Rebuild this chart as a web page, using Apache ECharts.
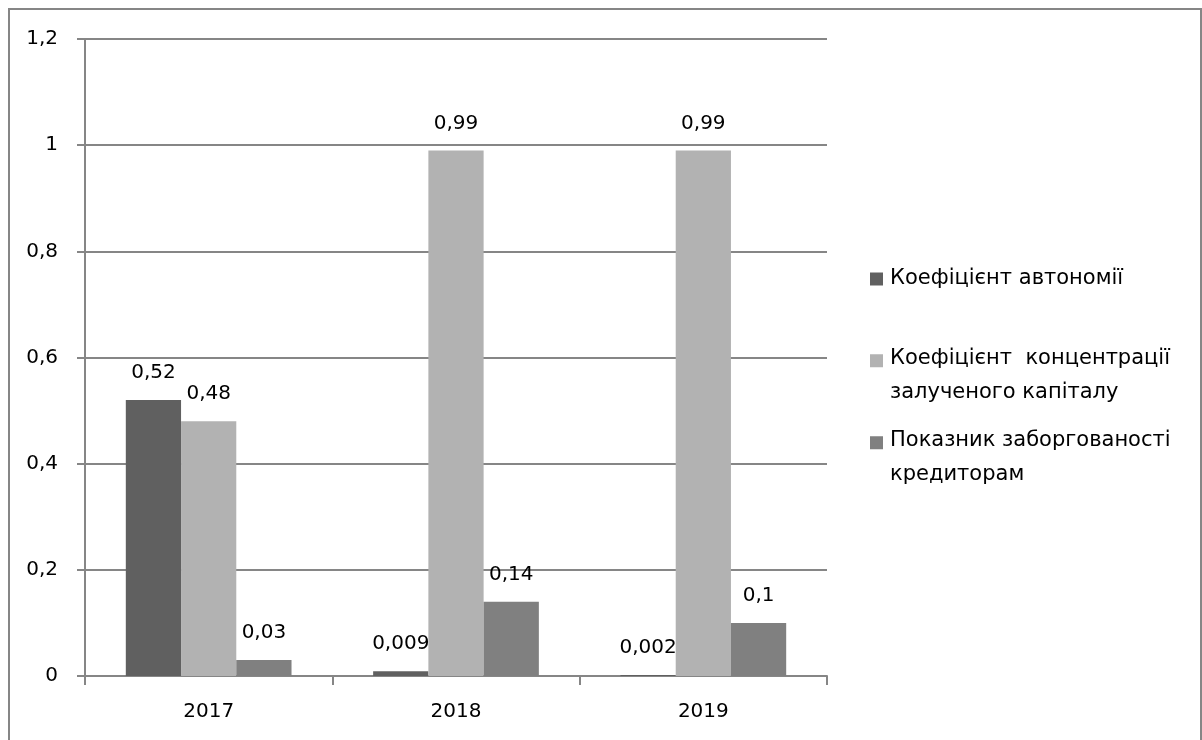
<!DOCTYPE html>
<html><head><meta charset="utf-8">
<script src="https://cdn.jsdelivr.net/npm/echarts@6/dist/echarts.min.js"></script>
<style>html,body{margin:0;padding:0;background:#fff}#c{width:1202px;height:740px}</style>
</head><body><div id="c"></div>
<script>
const categories = ['2017', '2018', '2019'];
const autonomy = [0.52, 0.009, 0.002];
const borrowedConcentration = [0.48, 0.99, 0.99];
const creditorDebt = [0.03, 0.14, 0.1];
const seriesNames = ['Коефіцієнт автономії', 'Коефіцієнт  концентрації\nзалученого капіталу', 'Показник заборгованості\nкредиторам'];
const yTicks = {min: 0, max: 1.2, interval: 0.2};

const FONT = 'DejaVu Sans';
const fmt = v => String(+v.toFixed(3)).replace('.', ',');
const colors = ['#606060', '#b2b2b2', '#808080'];
const label = {show: true, position: 'top', distance: 17, color: '#000', fontFamily: FONT, fontSize: 20,
  formatter: p => fmt(p.value)};
const mk = (name, data, c) => ({name, type: 'bar', data, barGap: '0%', barCategoryGap: '33%',
  itemStyle: {color: c}, label, emphasis: {disabled: true}});

const legendText = {color: '#000', fontFamily: FONT, fontSize: 21, lineHeight: 34, padding: [0, 0, 0, 2]};
const chart = echarts.init(document.getElementById('c'), null, {renderer: 'canvas'});
chart.setOption({
  animation: false,
  color: colors,
  grid: {left: 85, top: 39, right: 375, bottom: 64, containLabel: false},
  xAxis: {type: 'category', data: categories,
    axisLine: {lineStyle: {color: '#868686', width: 2}},
    axisTick: {show: true, length: 9, lineStyle: {color: '#868686', width: 2}},
    axisLabel: {color: '#000', fontFamily: FONT, fontSize: 20, margin: 26}},
  yAxis: {type: 'value', min: yTicks.min, max: yTicks.max, interval: yTicks.interval,
    axisLine: {show: true, lineStyle: {color: '#868686', width: 2}},
    axisTick: {show: true, length: 8, lineStyle: {color: '#868686', width: 2}},
    splitLine: {lineStyle: {color: '#868686', width: 2}},
    axisLabel: {color: '#000', fontFamily: FONT, fontSize: 20, margin: 27, formatter: v => fmt(v)}},
  legend: [
    {data: [seriesNames[0]], left: 865, top: 257, orient: 'vertical', icon: 'rect', itemWidth: 13, itemHeight: 13, itemGap: 0, textStyle: legendText, selectedMode: false},
    {data: [{name: seriesNames[1], icon: 'path://M0,0H12V12H0Z M0,40H0.01V40.01H0Z'}], left: 865, top: 337, orient: 'vertical', itemWidth: 13, itemHeight: 44, textStyle: legendText, selectedMode: false},
    {data: [{name: seriesNames[2], icon: 'path://M0,0H12V12H0Z M0,40H0.01V40.01H0Z'}], left: 865, top: 419, orient: 'vertical', itemWidth: 13, itemHeight: 44, textStyle: legendText, selectedMode: false}
  ],
  graphic: [{type: 'rect', silent: true, shape: {x: 9, y: 9, width: 1192, height: 745},
    style: {fill: 'none', stroke: '#868686', lineWidth: 2}}],
  series: [
    mk(seriesNames[0], autonomy, colors[0]),
    mk(seriesNames[1], borrowedConcentration, colors[1]),
    mk(seriesNames[2], creditorDebt, colors[2])
  ]
});
</script></body></html>
